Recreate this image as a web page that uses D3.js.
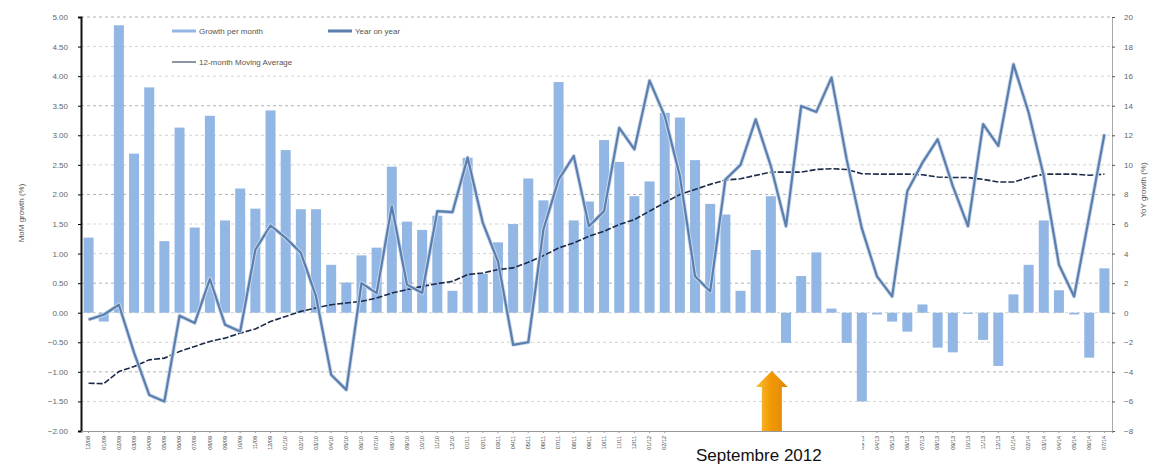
<!DOCTYPE html>
<html>
  <head>
    <meta charset="utf-8">
    <script src="https://d3js.org/d3.v7.min.js"></script>
    <title>Growth per month / Year on year</title>
    <style>
      body { margin: 0; background: #fff; }
      text { font-family: "Liberation Sans", Arial, sans-serif; }
    </style>
  </head>
  <body>
    <div id="container"></div>
    <script>
    // months Dec 2008 .. Jul 2014
    var months = [
      '12/08',
      '01/09','02/09','03/09','04/09','05/09','06/09','07/09','08/09','09/09','10/09','11/09','12/09',
      '01/10','02/10','03/10','04/10','05/10','06/10','07/10','08/10','09/10','10/10','11/10','12/10',
      '01/11','02/11','03/11','04/11','05/11','06/11','07/11','08/11','09/11','10/11','11/11','12/11',
      '01/12','02/12','03/12','04/12','05/12','06/12','07/12','08/12','09/12','10/12','11/12','12/12',
      '01/13','02/13','03/13','04/13','05/13','06/13','07/13','08/13','09/13','10/13','11/13','12/13',
      '01/14','02/14','03/14','04/14','05/14','06/14','07/14'
    ];

    // monthly growth (%), left axis
    var growth = [1.27, -0.15, 4.86, 2.69, 3.81, 1.21, 3.13, 1.44, 3.33, 1.56, 2.10, 1.76,
      3.42, 2.75, 1.75, 1.75, 0.81, 0.51, 0.97, 1.10, 2.47, 1.54, 1.40, 1.64,
      0.37, 2.62, 0.66, 1.19, 1.50, 2.27, 1.90, 3.90, 1.56, 1.88, 2.92, 2.55,
      1.97, 2.22, 3.38, 3.30, 2.58, 1.84, 1.66, 0.37, 1.06, 1.97, -0.51, 0.62,
      1.02, 0.07, -0.51, -1.50, -0.03, -0.15, -0.32, 0.14, -0.59, -0.67, -0.02, -0.46,
      -0.90, 0.31, 0.81, 1.56, 0.38, -0.03, -0.76, 0.75];

    // year on year (%), right axis
    var yoy = [-0.47, -0.14, 0.54, -2.7, -5.56, -6.0, -0.2, -0.7, 2.28, -0.81, -1.27, 4.27,
      5.9, 5.06, 4.05, 1.1, -4.2, -5.22, 2.0, 1.33, 7.2, 1.9, 1.33, 6.87,
      6.8, 10.49, 6.08, 3.48, -2.17, -2.0, 5.63, 9.0, 10.6, 5.85, 6.87, 12.5,
      11.05, 15.7, 13.3, 9.24, 2.46, 1.44, 9.0, 10.0, 13.08, 9.92, 5.85, 13.98,
      13.58, 15.9, 10.37, 5.7, 2.46, 1.1, 8.22, 10.15, 11.73, 8.56, 5.85, 12.75,
      11.28, 16.8, 13.54, 9.24, 3.25, 1.1, 6.53, 12.07];

    // 12-month moving average (%), right axis
    var movAvg = [-4.77, -4.8, -3.98, -3.64, -3.19, -3.07, -2.62, -2.28, -1.94, -1.72, -1.38, -1.1,
      -0.59, -0.25, 0.09, 0.32, 0.54, 0.66, 0.77, 0.99, 1.33, 1.56, 1.78, 1.97,
      2.12, 2.58, 2.69, 2.92, 3.03, 3.41, 3.86, 4.38, 4.72, 5.17, 5.51, 5.97,
      6.3, 6.87, 7.44, 8.0, 8.34, 8.68, 8.97, 9.06, 9.29, 9.51, 9.51, 9.51,
      9.69, 9.74, 9.69, 9.40, 9.37, 9.37, 9.37, 9.33, 9.18, 9.14, 9.14, 9.02,
      8.84, 8.84, 9.14, 9.37, 9.37, 9.37, 9.3, 9.37];

    var leftTicks = [-2, -1.5, -1, -0.5, 0, 0.5, 1, 1.5, 2, 2.5, 3, 3.5, 4, 4.5, 5];
    var rightTicks = [-8, -6, -4, -2, 0, 2, 4, 6, 8, 10, 12, 14, 16, 18, 20];
    var legendNames = ['Growth per month', 'Year on year', '12-month Moving Average'];
    var markIndex = 45;
    var markText = 'Septembre 2012';

    const w = 1157, h = 464;
    const mLeft = 81, mRight = 1112, mTop = 17, mBottom = 431;

    const svg = d3.select('#container').append('svg')
      .attr('width', w).attr('height', h);

    const x = d3.scaleBand().domain(months).range([mLeft, mRight])
      .paddingInner(0.34).paddingOuter(0.17);
    const yL = d3.scaleLinear().domain([-2, 5]).range([mBottom, mTop]);
    const yR = d3.scaleLinear().domain([-8, 20]).range([mBottom, mTop]);

    // gridlines
    svg.append('g').selectAll('line').data(leftTicks.filter(d => d > -2)).enter()
      .append('line')
      .attr('x1', mLeft).attr('x2', mRight)
      .attr('y1', d => yL(d)).attr('y2', d => yL(d))
      .attr('stroke', (d, i) => i % 3 == 1 ? '#9a9a9a' : '#c8c8c8')
      .attr('stroke-width', 0.8)
      .attr('stroke-dasharray', '3,3');

    // bars
    svg.append('g').selectAll('rect').data(growth).enter()
      .append('rect')
      .attr('x', (d, i) => x(months[i]))
      .attr('width', x.bandwidth())
      .attr('y', d => yL(Math.max(0, d)))
      .attr('height', d => Math.abs(yL(d) - yL(0)))
      .attr('fill', '#93b7e4');

    const cx = (d, i) => x(months[i]) + x.bandwidth() / 2;

    // moving average
    svg.append('path').datum(movAvg)
      .attr('d', d3.line().x(cx).y(d => yR(d)))
      .attr('fill', 'none').attr('stroke', '#1c2a48')
      .attr('stroke-width', 1.6).attr('stroke-dasharray', '6,2');

    // year on year
    svg.append('path').datum(yoy)
      .attr('d', d3.line().x(cx).y(d => yR(d)))
      .attr('fill', 'none').attr('stroke', '#cbd8ea')
      .attr('stroke-width', 4).attr('stroke-linejoin', 'round');
    svg.append('path').datum(yoy)
      .attr('d', d3.line().x(cx).y(d => yR(d)))
      .attr('fill', 'none').attr('stroke', '#5a7fae')
      .attr('stroke-width', 2.2).attr('stroke-linejoin', 'round');

    // axes
    const axL = svg.append('g').attr('transform', `translate(${mLeft},0)`)
      .call(d3.axisLeft(yL).tickValues(leftTicks).tickSize(3).tickFormat(d3.format('.2f')));
    axL.select('.domain').attr('stroke', '#111').attr('stroke-width', 2);
    axL.selectAll('text').attr('fill', '#666').attr('font-size', 8).attr('x', -13);

    const axR = svg.append('g').attr('transform', `translate(${mRight},0)`)
      .call(d3.axisRight(yR).tickValues(rightTicks).tickSize(3));
    axR.select('.domain').attr('stroke', '#aaa');
    axR.selectAll('line').attr('stroke', '#555');
    axR.selectAll('text').attr('fill', '#666').attr('font-size', 8).attr('x', 12);

    const axB = svg.append('g').attr('transform', `translate(0,${mBottom})`)
      .call(d3.axisBottom(x).tickSize(2));
    axB.select('.domain').attr('stroke', '#999');
    axB.selectAll('line').attr('stroke', '#999');
    axB.selectAll('text')
      .attr('font-size', 5.5).attr('fill', '#444')
      .attr('transform', 'rotate(-90)')
      .attr('text-anchor', 'end')
      .attr('x', -5).attr('y', 0).attr('dy', '0.32em');

    // axis titles
    svg.append('text').attr('transform', 'translate(24,213) rotate(-90)')
      .attr('text-anchor', 'middle').attr('font-size', 8).attr('fill', '#555')
      .text('MoM growth (%)');
    svg.append('text').attr('transform', 'translate(1146,190) rotate(-90)')
      .attr('text-anchor', 'middle').attr('font-size', 8).attr('fill', '#555')
      .text('YoY growth (%)');

    // legend
    const lg = svg.append('g').attr('font-size', 8).attr('fill', '#555');
    lg.append('line').attr('x1', 172).attr('x2', 196).attr('y1', 31).attr('y2', 31)
      .attr('stroke', '#93b7e4').attr('stroke-width', 3);
    lg.append('text').attr('x', 199).attr('y', 34).text(legendNames[0]);
    lg.append('line').attr('x1', 328).attr('x2', 352).attr('y1', 31).attr('y2', 31)
      .attr('stroke', '#5a7fae').attr('stroke-width', 3);
    lg.append('text').attr('x', 355).attr('y', 34).text(legendNames[1]);
    lg.append('line').attr('x1', 172).attr('x2', 196).attr('y1', 62).attr('y2', 62)
      .attr('stroke', '#1c2a48').attr('stroke-width', 1);
    lg.append('text').attr('x', 199).attr('y', 65).text(legendNames[2]);

    // arrow marking September 2012
    const defs = svg.append('defs');
    const grad = defs.append('linearGradient').attr('id', 'arr')
      .attr('x1', 0).attr('x2', 1).attr('y1', 0).attr('y2', 0);
    grad.append('stop').attr('offset', '0%').attr('stop-color', '#f7c23a');
    grad.append('stop').attr('offset', '45%').attr('stop-color', '#f39a05');
    grad.append('stop').attr('offset', '100%').attr('stop-color', '#de850c');
    const ax = cx(0, markIndex) + 1;
    svg.append('path')
      .attr('d', `M${ax},371 L${ax + 16},387 L${ax + 10},387 L${ax + 10},${mBottom} L${ax - 10},${mBottom} L${ax - 10},387 L${ax - 16},387 Z`)
      .attr('fill', 'url(#arr)');

    svg.append('rect').attr('x', 676).attr('y', 432).attr('width', 186).attr('height', 32)
      .attr('fill', '#fff');
    svg.append('text').attr('x', ax - 13).attr('y', 461).attr('text-anchor', 'middle')
      .attr('font-family', 'Open Sans').attr('font-size', 17).attr('fill', '#111')
      .text(markText);
    </script>
  </body>
</html>
